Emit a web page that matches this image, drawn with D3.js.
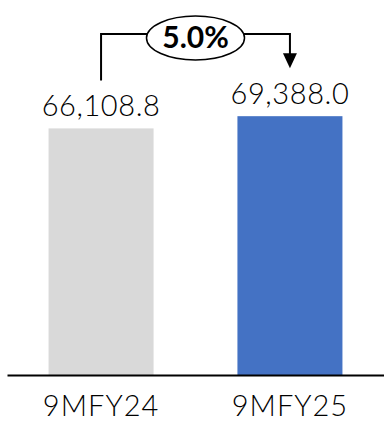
<!DOCTYPE html>
<html>
<head>
<meta charset="utf-8">
<script src="https://d3js.org/d3.v7.min.js"></script>
<style>
  body { margin: 0; background: #fff; }
  svg text { font-family: Lato, "Open Sans", sans-serif; fill: #000; }
</style>
</head>
<body>
<script>
const categories = ['9MFY24', '9MFY25'];
const values = [66108.8, 69388.0];
const colors = ['#D9D9D9', '#4472C4'];

const width = 384, height = 425;

const svg = d3.select('body').append('svg')
    .attr('width', width)
    .attr('height', height);

const x = d3.scaleBand()
    .domain(categories)
    .range([7, 384])
    .paddingInner(0.444)
    .paddingOuter(0.22);

const y = d3.scaleLinear()
    .domain([0, 100000])
    .range([375, 2]);

// bars
svg.selectAll('rect.bar')
    .data(values)
    .enter().append('rect')
    .attr('class', 'bar')
    .attr('x', (d, i) => x(categories[i]))
    .attr('y', d => y(d))
    .attr('width', x.bandwidth())
    .attr('height', d => y(0) - y(d))
    .attr('fill', (d, i) => colors[i]);

// value labels
const fmt = d3.format(',.1f');
svg.selectAll('text.val')
    .data(values)
    .enter().append('text')
    .attr('class', 'val')
    .attr('x', (d, i) => x(categories[i]) + x.bandwidth() / 2)
    .attr('y', d => y(d) - 12)
    .attr('text-anchor', 'middle')
    .style('font-size', '29px')
    .style('font-weight', 300)
    .style('letter-spacing', '0.6px')
    .text(d => fmt(d));

// x axis
const xAxis = svg.append('g')
    .attr('transform', 'translate(0,' + y(0) + ')')
    .call(d3.axisBottom(x).tickSize(0).tickPadding(20));

xAxis.select('.domain')
    .attr('stroke', '#000')
    .attr('stroke-width', 2);

xAxis.selectAll('text')
    .style('font-size', '29px')
    .style('font-weight', 300)
    .style('letter-spacing', '1px')
    .style('font-family', 'Lato, "Open Sans", sans-serif')
    .attr('fill', '#000');

// growth annotation
const x0 = x(categories[0]) + x.bandwidth() / 2,
    x1 = x(categories[1]) + x.bandwidth() / 2,
    topY = 34,
    cx = (x0 + x1) / 2;

svg.append('path')
    .attr('d', 'M' + x0 + ',' + (y(values[0]) - 48) + 'V' + topY + 'H' + x1 + 'V' + (y(values[1]) - 62))
    .attr('fill', 'none')
    .attr('stroke', '#000')
    .attr('stroke-width', 2);

svg.append('path')
    .attr('d', 'M' + (x1 - 7) + ',' + (y(values[1]) - 63) + 'L' + (x1 + 7) + ',' + (y(values[1]) - 63) + 'L' + x1 + ',' + (y(values[1]) - 48) + 'Z')
    .attr('fill', '#000');

svg.append('ellipse')
    .attr('cx', cx)
    .attr('cy', 38)
    .attr('rx', 49)
    .attr('ry', 22)
    .attr('fill', '#fff')
    .attr('stroke', '#000')
    .attr('stroke-width', 1.5);

const growth = values[1] / values[0] - 1;
svg.append('text')
    .attr('x', cx)
    .attr('y', 48)
    .attr('text-anchor', 'middle')
    .style('font-size', '30px')
    .style('font-weight', 'bold')
    .text(d3.format('.1%')(growth));
</script>
</body>
</html>
